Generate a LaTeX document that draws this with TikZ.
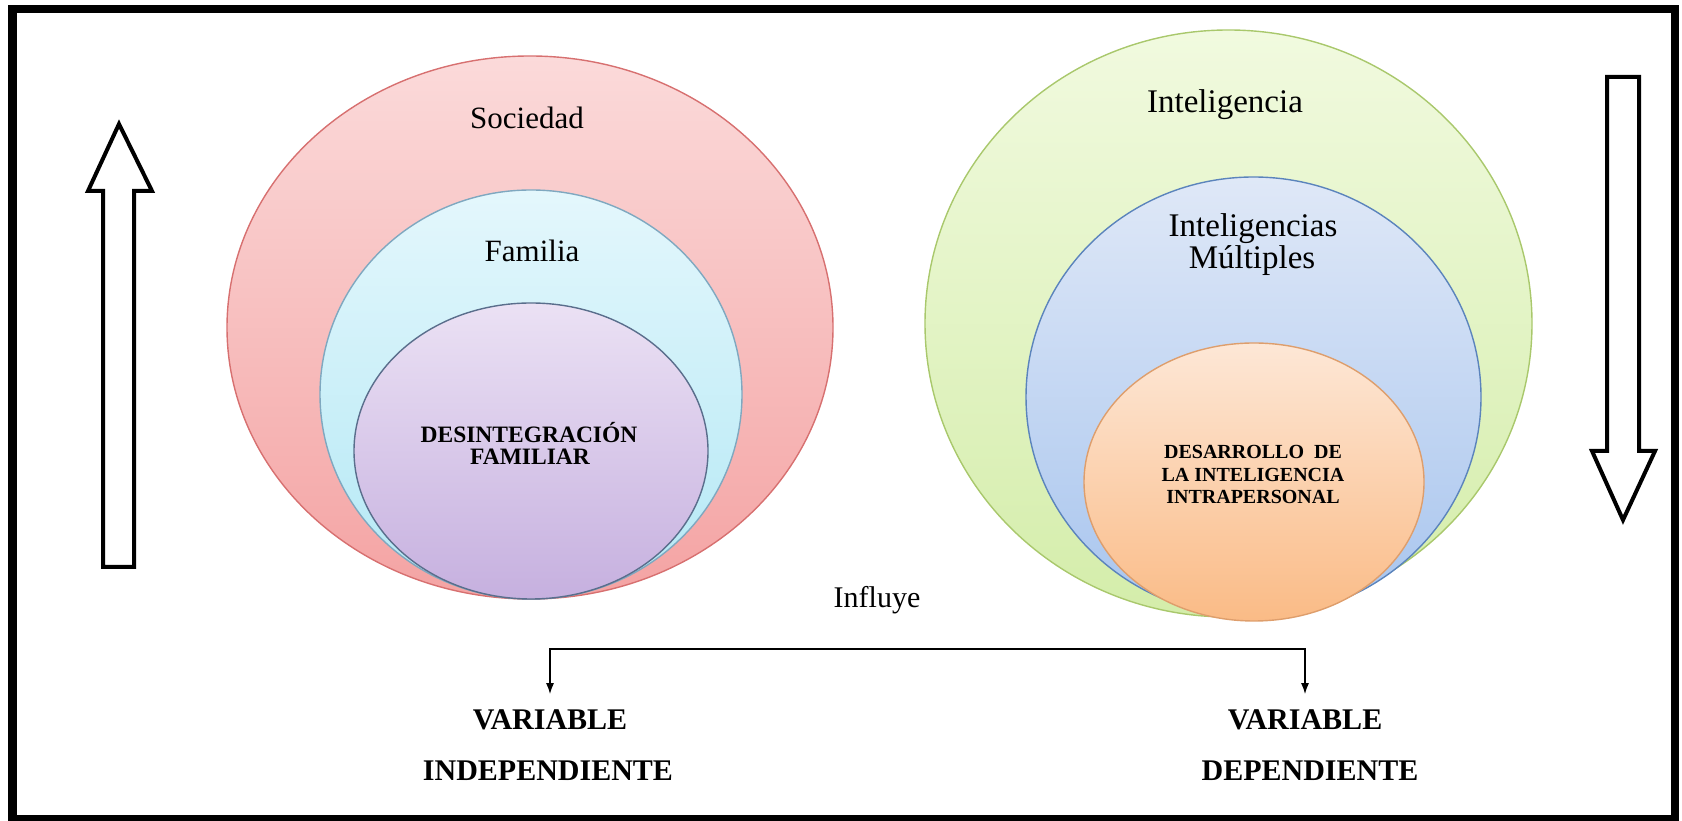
\documentclass[tikz,border=0pt]{standalone}
\usepackage{fontspec}
\setmainfont{Liberation Serif}
\usetikzlibrary{arrows.meta}
\definecolor{socTop}{HTML}{FBDADA}
\definecolor{socBot}{HTML}{F4A3A3}
\definecolor{socLine}{HTML}{D77070}
\definecolor{famTop}{HTML}{E4F7FC}
\definecolor{famBot}{HTML}{B3E8F5}
\definecolor{famLine}{HTML}{7FA8C0}
\definecolor{desTop}{HTML}{EBE1F4}
\definecolor{desBot}{HTML}{C6B0DF}
\definecolor{desLine}{HTML}{5A6E8C}
\definecolor{intTop}{HTML}{F1FADF}
\definecolor{intBot}{HTML}{D4EDAA}
\definecolor{intLine}{HTML}{A9C86C}
\definecolor{mulTop}{HTML}{DFE8F7}
\definecolor{mulBot}{HTML}{A8C5EE}
\definecolor{mulLine}{HTML}{5B84BC}
\definecolor{daTop}{HTML}{FDE7D6}
\definecolor{daBot}{HTML}{FABB86}
\definecolor{daLine}{HTML}{DE9E6C}
\tikzset{
  circ/.style={line width=1.4pt},
  lbl/.style={anchor=base, inner sep=0pt, outer sep=0pt, font=\fontsize{31}{36}\selectfont},
  blbl/.style={anchor=base, inner sep=0pt, outer sep=0pt, font=\bfseries\fontsize{23.5}{26}\selectfont},
  slbl/.style={anchor=base, inner sep=0pt, outer sep=0pt, font=\bfseries\fontsize{20}{22}\selectfont},
  varlbl/.style={anchor=base, inner xsep=0pt, outer sep=0pt, font=\bfseries\fontsize{30}{34}\selectfont},
  bigarrow/.style={draw=black, fill=white, line width=4pt, line join=miter},
  conn/.style={line width=1.5pt, -{Latex[length=11pt,width=8pt]}},
  frame/.style={line width=8.5pt}
}
\begin{document}
\begin{tikzpicture}[x=1pt,y=1pt]
\useasboundingbox (0,0) rectangle (1682,821);
\draw[frame] (12.5,2) rectangle (1675,812);

% left group
\path[circ, draw=socLine, top color=socTop, bottom color=socBot] (530,493.5) ellipse [x radius=303, y radius=271.5];
\path[circ, draw=famLine, top color=famTop, bottom color=famBot] (531,426.5) ellipse [x radius=211, y radius=204.5];
\path[circ, draw=desLine, top color=desTop, bottom color=desBot] (531,370) ellipse [x radius=177, y radius=148];
\node[lbl] (soc) at (527,692) {Sociedad};
\node[lbl] (fam) at (532,559) {Familia};
\node[blbl] (des1) at (529,378) {DESINTEGRACIÓN};
\node[blbl] (des2) at (530,356) {FAMILIAR};

% right group
\path[circ, draw=intLine, top color=intTop, bottom color=intBot] (1228.5,497.5) ellipse [x radius=303.5, y radius=293.5];
\path[circ, draw=mulLine, top color=mulTop, bottom color=mulBot] (1253.5,424) ellipse [x radius=227.5, y radius=220];
\path[circ, draw=daLine, top color=daTop, bottom color=daBot] (1254,339) ellipse [x radius=170, y radius=139];
\node[lbl, font=\fontsize{33}{38}\selectfont] (int) at (1225,708) {Inteligencia};
\node[lbl, font=\fontsize{33}{38}\selectfont] (mul1) at (1253,584) {Inteligencias};
\node[lbl, font=\fontsize{33}{38}\selectfont] (mul2) at (1252,552) {Múltiples};
\node[slbl] (da1) at (1253,362) {DESARROLLO\ \ DE};
\node[slbl] (da2) at (1253,339) {LA INTELIGENCIA};
\node[slbl] (da3) at (1253,317) {INTRAPERSONAL};

% big arrows
\draw[bigarrow] (119,697) -- (152,630) -- (134,630) -- (134,254) -- (103,254) -- (103,630) -- (88,630) -- cycle;
\draw[bigarrow] (1623,301) -- (1655,370) -- (1639,370) -- (1639,744) -- (1607,744) -- (1607,370) -- (1592,370) -- cycle;

% bottom
\node[lbl, font=\fontsize{30}{34}\selectfont] (inf) at (877,213) {Influye};
\node[varlbl, inner ysep=16pt] (vi) at (550,91) {VARIABLE};
\node[varlbl] (vi2) at (548,40) {INDEPENDIENTE};
\node[varlbl, inner ysep=16pt] (vd) at (1305,91) {VARIABLE};
\node[varlbl] (vd2) at (1310,40) {DEPENDIENTE};
\coordinate (split) at (927,172);
\draw[conn] (split) -| (vi.north);
\draw[conn] (split) -| (vd.north);
\end{tikzpicture}
\end{document}
